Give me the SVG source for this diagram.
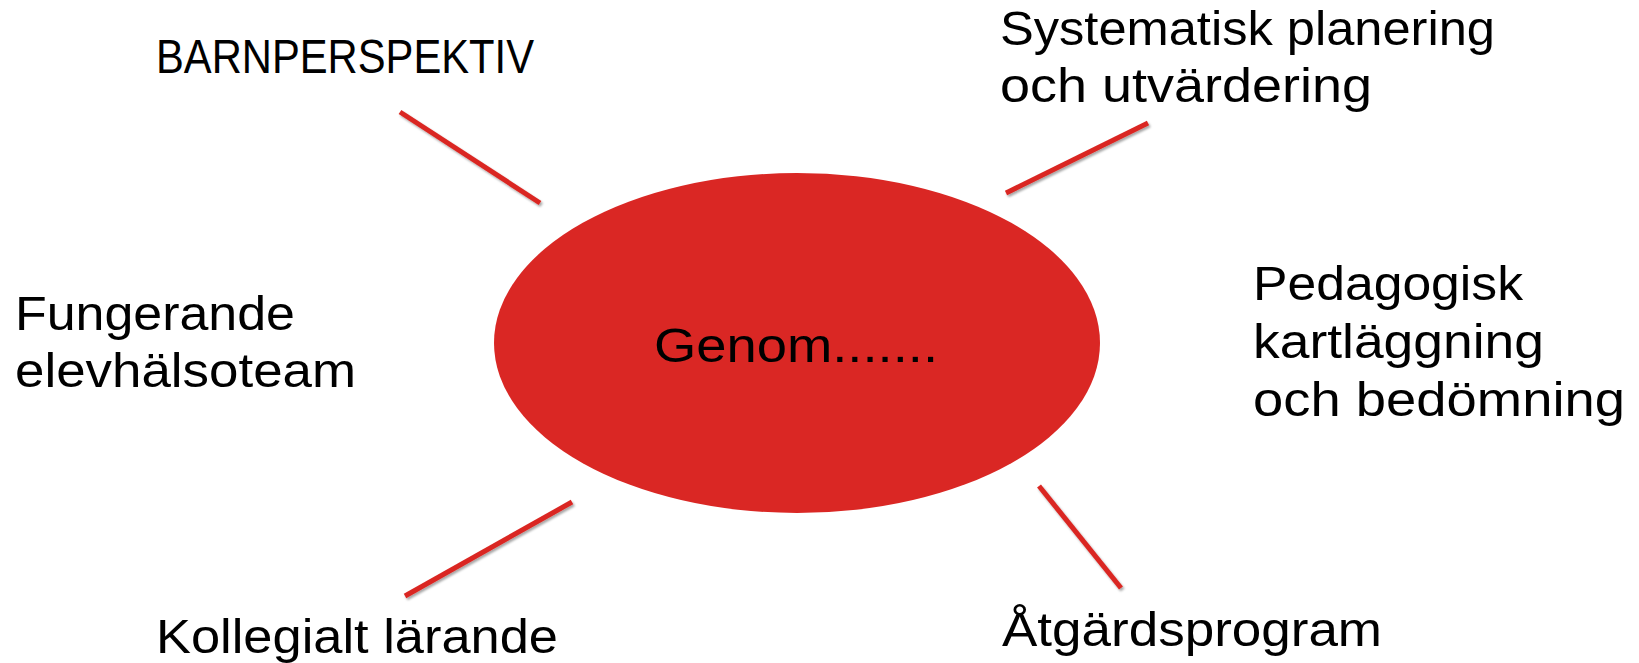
<svg xmlns="http://www.w3.org/2000/svg" width="1639" height="663" viewBox="0 0 1639 663">
<style>
.lbl{font-family:"Liberation Sans","Open Sans",Arial,sans-serif;font-size:48px;fill:#000;}
.con{stroke:#DA2824;stroke-width:5;fill:none;filter:url(#sh);}
</style>
<defs>
<filter id="sh" x="-20%" y="-20%" width="140%" height="140%">
<feDropShadow dx="1.5" dy="2" stdDeviation="1.2" flood-color="#000" flood-opacity="0.35"/>
</filter>
</defs>
<rect width="1639" height="663" fill="#fff"/>
<g id="connectors">
<line class="con" x1="400" y1="112" x2="540" y2="203"/>
<line class="con" x1="1006" y1="193" x2="1148" y2="123"/>
<line class="con" x1="337" y1="341.5" x2="470" y2="341.5"/>
<line class="con" x1="1121" y1="341.5" x2="1207" y2="341.5"/>
<line class="con" x1="405" y1="596" x2="572" y2="502"/>
<line class="con" x1="1039" y1="486" x2="1121" y2="588"/>
</g>
<g id="center">
<ellipse cx="797" cy="343" rx="303" ry="170" fill="#DA2724"/>
<text class="lbl" x="654" y="362" textLength="284" lengthAdjust="spacingAndGlyphs">Genom.......</text>
</g>
<g id="barnperspektiv">
<text class="lbl" x="156" y="72.5" textLength="378" lengthAdjust="spacingAndGlyphs">BARNPERSPEKTIV</text>
</g>
<g id="systematisk">
<text class="lbl" x="1000" y="45" textLength="495" lengthAdjust="spacingAndGlyphs">Systematisk planering</text>
<text class="lbl" x="1000" y="102" textLength="372" lengthAdjust="spacingAndGlyphs">och utvärdering</text>
</g>
<g id="fungerande">
<text class="lbl" x="15" y="330" textLength="280" lengthAdjust="spacingAndGlyphs">Fungerande</text>
<text class="lbl" x="15" y="387" textLength="341" lengthAdjust="spacingAndGlyphs">elevhälsoteam</text>
</g>
<g id="pedagogisk">
<text class="lbl" x="1253" y="300" textLength="270" lengthAdjust="spacingAndGlyphs">Pedagogisk</text>
<text class="lbl" x="1253" y="358" textLength="291" lengthAdjust="spacingAndGlyphs">kartläggning</text>
<text class="lbl" x="1253" y="416" textLength="372" lengthAdjust="spacingAndGlyphs">och bedömning</text>
</g>
<g id="kollegialt">
<text class="lbl" x="156" y="653" textLength="402" lengthAdjust="spacingAndGlyphs">Kollegialt lärande</text>
</g>
<g id="atgardsprogram">
<text class="lbl" x="1002" y="646" textLength="380" lengthAdjust="spacingAndGlyphs">Åtgärdsprogram</text>
</g>
</svg>
